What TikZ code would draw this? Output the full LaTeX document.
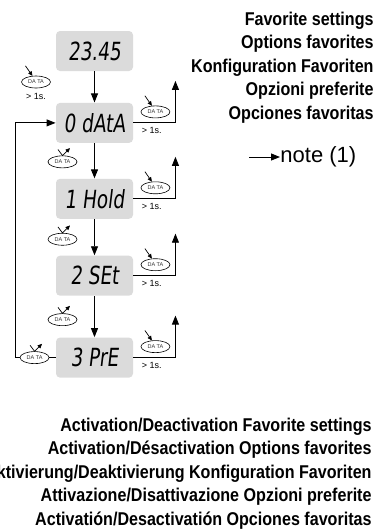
\documentclass[tikz,border=0pt]{standalone}
\usepackage{fontspec}
\setmainfont{Liberation Sans}
\newfontfamily\lcdfont{DejaVu Sans}[FakeStretch=0.74,FakeSlant=0.12]
\newfontfamily\headfont{Liberation Sans}[FakeStretch=0.87]
\usetikzlibrary{arrows.meta,positioning,shapes.geometric,calc}

\definecolor{lcdgray}{gray}{0.86}
\tikzset{
  lcd/.style={rectangle, rounded corners=4pt, fill=lcdgray, minimum width=77pt,
    minimum height=40pt, inner sep=0pt, font=\lcdfont\fontsize{25}{25}\selectfont},
  btn/.style={ellipse, draw, fill=white, line width=0.6pt, minimum width=29pt,
    minimum height=12pt, inner sep=0pt, text=black!80, font=\fontsize{5.5}{5.5}\selectfont},
  hint/.style={inner sep=0pt, font=\fontsize{9}{9}\selectfont},
  heading/.style={inner sep=0pt, align=right, font=\headfont\bfseries\fontsize{18.5}{23.5}\selectfont},
  push/.style={-{Triangle[length=4.5pt,width=4pt]}, line width=0.7pt},
  release/.style={-{Triangle[length=4.5pt,width=4pt]}, line width=0.7pt}
}

\begin{document}
\begin{tikzpicture}[x=1pt,y=-1pt,line width=0.9pt,>={Triangle[length=9pt,width=7pt]}]
    \useasboundingbox (0,0) rectangle (377,531);
    % display states
    \node[lcd] (clock) at (94.5,51) {23.45};
    \node[lcd] (data) [below=31pt of clock] {0 dAtA};
    \node[lcd] (hold) [below=35pt of data] {1 Hold};
    \node[lcd] (set) [below=36pt of hold] {2 SEt};
    \node[lcd] (pre) [below=41pt of set] {3 PrE};
    \draw [->] (clock) -- (data);
    \draw [->] (data) -- (hold);
    \draw [->] (hold) -- (set);
    \draw [->] (set) -- (pre);

    % long press to enter
    \node[btn] (start-btn) at (36,82) {DA TA};
    \coordinate (start-finger) at ([shift={(-7pt,10pt)}]start-btn.120);
    \draw [push] (start-finger) -- (start-btn.120);
    \node[hint] (start-hint) [below=5pt of start-btn] {> 1s.};

    % long press on each state
    \coordinate (data-turn) at ([xshift=42pt]data.east);
    \coordinate (data-out) at ([yshift=42pt]data-turn);
    \draw [->] (data.east) -- (data-turn) -- (data-out);
    \node[btn] (data-btn) at ([xshift=22pt,yshift=11pt]data.east) {DA TA};
    \coordinate (data-finger) at ([shift={(-7pt,10pt)}]data-btn.120);
    \draw [push] (data-finger) -- (data-btn.120);
    \node[hint, anchor=west] (data-hint) at ([xshift=8pt,yshift=-8pt]data.east) {> 1s.};

    \coordinate (hold-turn) at ([xshift=42pt]hold.east);
    \coordinate (hold-out) at ([yshift=42pt]hold-turn);
    \draw [->] (hold.east) -- (hold-turn) -- (hold-out);
    \node[btn] (hold-btn) at ([xshift=22pt,yshift=11pt]hold.east) {DA TA};
    \coordinate (hold-finger) at ([shift={(-7pt,10pt)}]hold-btn.120);
    \draw [push] (hold-finger) -- (hold-btn.120);
    \node[hint, anchor=west] (hold-hint) at ([xshift=8pt,yshift=-8pt]hold.east) {> 1s.};

    \coordinate (set-turn) at ([xshift=42pt]set.east);
    \coordinate (set-out) at ([yshift=42pt]set-turn);
    \draw [->] (set.east) -- (set-turn) -- (set-out);
    \node[btn] (set-btn) at ([xshift=22pt,yshift=11pt]set.east) {DA TA};
    \coordinate (set-finger) at ([shift={(-7pt,10pt)}]set-btn.120);
    \draw [push] (set-finger) -- (set-btn.120);
    \node[hint, anchor=west] (set-hint) at ([xshift=8pt,yshift=-8pt]set.east) {> 1s.};

    \coordinate (pre-turn) at ([xshift=42pt]pre.east);
    \coordinate (pre-out) at ([yshift=42pt]pre-turn);
    \draw [->] (pre.east) -- (pre-turn) -- (pre-out);
    \node[btn] (pre-btn) at ([xshift=22pt,yshift=11pt]pre.east) {DA TA};
    \coordinate (pre-finger) at ([shift={(-7pt,10pt)}]pre-btn.120);
    \draw [push] (pre-finger) -- (pre-btn.120);
    \node[hint, anchor=west] (pre-hint) at ([xshift=8pt,yshift=-8pt]pre.east) {> 1s.};

    % short press to step
    \node[btn] (next1) at ($(data.south)!0.5!(hold.north)+(-32pt,-1pt)$) {DA TA};
    \coordinate (next1-l) at ([shift={(-4.5pt,6pt)}]next1.north);
    \coordinate (next1-r) at ([shift={(7.5pt,7.5pt)}]next1.north);
    \draw [release] (next1-l) -- (next1.north) -- (next1-r);

    \node[btn] (next2) at ($(hold.south)!0.5!(set.north)+(-32pt,-2pt)$) {DA TA};
    \coordinate (next2-l) at ([shift={(-4.5pt,6pt)}]next2.north);
    \coordinate (next2-r) at ([shift={(7.5pt,7.5pt)}]next2.north);
    \draw [release] (next2-l) -- (next2.north) -- (next2-r);

    \node[btn] (next3) at ($(set.south)!0.5!(pre.north)+(-32pt,-3pt)$) {DA TA};
    \coordinate (next3-l) at ([shift={(-4.5pt,6pt)}]next3.north);
    \coordinate (next3-r) at ([shift={(7.5pt,7.5pt)}]next3.north);
    \draw [release] (next3-l) -- (next3.north) -- (next3-r);

    % back to the first one
    \node[btn] (loop-btn) at ([xshift=-21pt]pre.west) {DA TA};
    \coordinate (loop-l) at ([shift={(-4.5pt,6pt)}]loop-btn.north);
    \coordinate (loop-r) at ([shift={(7.5pt,7.5pt)}]loop-btn.north);
    \draw [release] (loop-l) -- (loop-btn.north) -- (loop-r);
    \coordinate (loop-high) at ([xshift=-40pt]data.west);
    \draw (pre.west) -- (loop-btn.east);
    \draw [->] (loop-btn.west) -| (loop-high) -- (data.west);

    % legend
    \node[inner sep=0pt, anchor=west, font=\fontsize{22}{22}\selectfont] (note) at (280,157) {note (1)};
    \coordinate (note-tail) at ([xshift=-31pt]note.west);
    \draw [->] (note-tail) -- (note.west);

    \node[heading, anchor=north east] (fav) at (374,11.5) {Favorite settings\\Options favorites\\Konfiguration Favoriten\\Opzioni preferite\\Opciones favoritas};
    \node[heading, anchor=north east] (act) at (372,417.5) {Activation/Deactivation Favorite settings\\Activation/Désactivation Options favorites\\Aktivierung/Deaktivierung Konfiguration Favoriten\\Attivazione/Disattivazione Opzioni preferite\\Activatión/Desactivatión Opciones favoritas};
\end{tikzpicture}
\end{document}
